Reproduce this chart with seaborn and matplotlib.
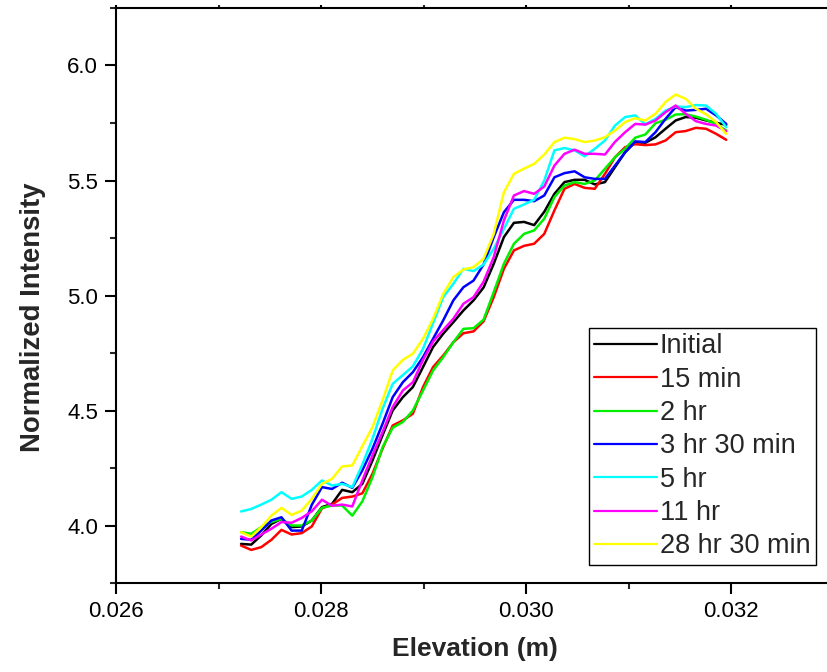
import numpy as np
import pandas as pd
import matplotlib
matplotlib.use("Agg")
import matplotlib.pyplot as plt
from matplotlib.ticker import MultipleLocator, FormatStrFormatter
import seaborn as sns

# Elevation grid (m) of the intensity profiles
elevation = [
    0.027220, 0.027319, 0.027417, 0.027516, 0.027614, 0.027713, 0.027812,
    0.027910, 0.028009, 0.028107, 0.028206, 0.028305, 0.028403, 0.028502,
    0.028600, 0.028699, 0.028798, 0.028896, 0.028995, 0.029093, 0.029192,
    0.029291, 0.029389, 0.029488, 0.029586, 0.029685, 0.029784, 0.029882,
    0.029981, 0.030079, 0.030178, 0.030277, 0.030375, 0.030474, 0.030572,
    0.030671, 0.030770, 0.030868, 0.030967, 0.031065, 0.031164, 0.031263,
    0.031361, 0.031460, 0.031558, 0.031657, 0.031756, 0.031854, 0.031953,
]

initial = [
    3.920, 3.917, 3.957, 4.007, 4.029, 3.993, 3.996, 4.022, 4.080, 4.094,
    4.155, 4.145, 4.181, 4.283, 4.392, 4.500, 4.558, 4.602, 4.689, 4.776,
    4.834, 4.884, 4.935, 4.979, 5.035, 5.138, 5.254, 5.316, 5.320, 5.306,
    5.364, 5.442, 5.493, 5.503, 5.503, 5.483, 5.493, 5.558, 5.623, 5.667,
    5.664, 5.688, 5.725, 5.761, 5.776, 5.773, 5.761, 5.751, 5.742,
]
min15 = [
    3.913, 3.894, 3.906, 3.938, 3.981, 3.961, 3.967, 3.996, 4.075, 4.091,
    4.120, 4.126, 4.140, 4.225, 4.334, 4.435, 4.457, 4.486, 4.602, 4.689,
    4.739, 4.797, 4.836, 4.844, 4.888, 4.993, 5.116, 5.196, 5.216, 5.225,
    5.268, 5.370, 5.464, 5.485, 5.468, 5.464, 5.529, 5.601, 5.645, 5.658,
    5.654, 5.657, 5.674, 5.710, 5.715, 5.729, 5.725, 5.703, 5.677,
]
hr2 = [
    3.971, 3.964, 3.993, 4.015, 4.029, 4.000, 4.000, 4.022, 4.077, 4.087,
    4.087, 4.043, 4.105, 4.210, 4.340, 4.425, 4.450, 4.500, 4.587, 4.674,
    4.732, 4.797, 4.855, 4.858, 4.895, 5.015, 5.138, 5.225, 5.268, 5.283,
    5.334, 5.428, 5.478, 5.493, 5.485, 5.500, 5.551, 5.601, 5.638, 5.686,
    5.700, 5.749, 5.764, 5.787, 5.788, 5.778, 5.764, 5.746, 5.717,
]
hr3_30 = [
    3.942, 3.938, 3.978, 4.022, 4.036, 3.978, 3.978, 4.090, 4.167, 4.159,
    4.186, 4.164, 4.240, 4.334, 4.442, 4.558, 4.623, 4.667, 4.732, 4.812,
    4.892, 4.979, 5.036, 5.065, 5.135, 5.254, 5.362, 5.416, 5.416, 5.410,
    5.435, 5.514, 5.532, 5.540, 5.514, 5.507, 5.507, 5.565, 5.623, 5.670,
    5.667, 5.710, 5.768, 5.819, 5.804, 5.807, 5.812, 5.783, 5.746,
]
hr5 = [
    4.061, 4.072, 4.091, 4.112, 4.145, 4.116, 4.126, 4.155, 4.196, 4.174,
    4.181, 4.167, 4.265, 4.377, 4.507, 4.616, 4.654, 4.692, 4.768, 4.880,
    4.993, 5.051, 5.116, 5.106, 5.135, 5.203, 5.290, 5.377, 5.396, 5.416,
    5.500, 5.631, 5.641, 5.631, 5.605, 5.638, 5.674, 5.739, 5.776, 5.783,
    5.744, 5.768, 5.804, 5.822, 5.819, 5.828, 5.826, 5.790, 5.732,
]
hr11 = [
    3.952, 3.935, 3.961, 3.986, 4.015, 4.012, 4.033, 4.062, 4.112, 4.086,
    4.091, 4.083, 4.196, 4.305, 4.406, 4.515, 4.587, 4.623, 4.720, 4.800,
    4.850, 4.899, 4.964, 4.993, 5.060, 5.167, 5.326, 5.435, 5.454, 5.442,
    5.474, 5.565, 5.616, 5.634, 5.616, 5.616, 5.613, 5.668, 5.710, 5.746,
    5.743, 5.761, 5.797, 5.826, 5.790, 5.758, 5.746, 5.739, 5.714,
]
hr28_30 = [
    3.971, 3.952, 3.993, 4.043, 4.077, 4.046, 4.065, 4.116, 4.181, 4.203,
    4.257, 4.261, 4.345, 4.428, 4.544, 4.674, 4.720, 4.747, 4.812, 4.899,
    5.007, 5.080, 5.113, 5.123, 5.160, 5.268, 5.449, 5.529, 5.552, 5.572,
    5.613, 5.667, 5.686, 5.680, 5.667, 5.674, 5.688, 5.717, 5.754, 5.771,
    5.761, 5.790, 5.841, 5.874, 5.855, 5.812, 5.788, 5.754, 5.703,
]

labels = ["Initial", "15 min", "2 hr", "3 hr 30 min", "5 hr", "11 hr", "28 hr 30 min"]
series = [initial, min15, hr2, hr3_30, hr5, hr11, hr28_30]
colors = ["#000000", "#FF0000", "#00F000", "#0000FF", "#00FFFF", "#FF00FF", "#FFFF00"]

df = pd.concat(
    [pd.DataFrame({"Elevation": elevation, "Intensity": s, "Time": lab})
     for lab, s in zip(labels, series)],
    ignore_index=True,
)

sns.set_style("ticks")
plt.rcParams["font.family"] = ["Liberation Sans", "DejaVu Sans"]

fig = plt.figure(figsize=(8.27, 6.72), dpi=100)
ax = fig.add_axes([0.1403, 0.1324, 0.8676, 0.8557])

sns.lineplot(
    data=df, x="Elevation", y="Intensity", hue="Time",
    hue_order=labels, palette=colors, sort=False, estimator=None,
    linewidth=1.8, ax=ax,
)

ax.set_xlim(0.026, 0.033)
ax.set_ylim(3.75, 6.25)
ax.xaxis.set_major_locator(MultipleLocator(0.002))
ax.xaxis.set_minor_locator(MultipleLocator(0.001))
ax.xaxis.set_major_formatter(FormatStrFormatter("%.3f"))
ax.yaxis.set_major_locator(MultipleLocator(0.5))
ax.yaxis.set_minor_locator(MultipleLocator(0.25))
ax.yaxis.set_major_formatter(FormatStrFormatter("%.1f"))

for side in ["left", "bottom", "top", "right"]:
    ax.spines[side].set_visible(True)
    ax.spines[side].set_linewidth(1.5)
    ax.spines[side].set_color("black")

ax.tick_params(axis="both", which="major", direction="out", length=8, width=1.5,
               labelsize=16, pad=5, colors="black")
ax.tick_params(axis="both", which="minor", direction="out", length=4.5, width=1.5)
ax.tick_params(axis="x", which="both", top=True)
for t in ax.xaxis.get_major_ticks() + ax.xaxis.get_minor_ticks():
    t.tick2line.set_markersize(2)

ax.set_xlabel("Elevation (m)", fontsize=19, fontweight="bold")
ax.set_ylabel("Normalized Intensity", fontsize=19.8, fontweight="bold")
ax.xaxis.set_label_coords(0.5, -0.093)
ax.yaxis.set_label_coords(-0.097, 0.4626)

handles, _ = ax.get_legend_handles_labels()
if ax.get_legend() is not None:
    ax.get_legend().remove()
for h in handles:
    h.set_linewidth(1.6)
leg = ax.legend(
    handles, labels, loc="upper left", bbox_to_anchor=(0.659, 0.4435),
    borderaxespad=0, fontsize=19.5, frameon=True, fancybox=False,
    edgecolor="black", framealpha=1, borderpad=0.2, handlelength=2.3,
    handletextpad=0.12, labelspacing=0.27,
)
leg.get_frame().set_linewidth(1.0)

fig.savefig("out.png", dpi=100)
